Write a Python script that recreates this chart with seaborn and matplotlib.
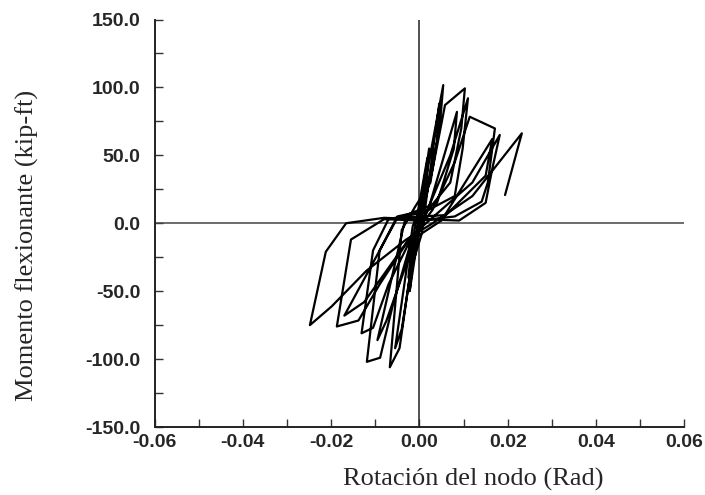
import matplotlib
matplotlib.use("Agg")
from matplotlib import pyplot as plt
from matplotlib.ticker import MultipleLocator, FormatStrFormatter
import seaborn as sns
import pandas as pd

# rotation (rad) and moment (kip-ft) in order
rotation = [
    0.0, 0.0005, 0.0002, -0.0008, -0.0003, 0.0012, 0.0006, -0.0015, -0.0008,
    0.0010, 0.0004, -0.0012, -0.0006,
    0.0022, 0.0015, -0.0025, -0.0018,
    0.0018, 0.0010, -0.0022, -0.0012,
    0.001, 0.0054, 0.0047, 0.0025, -0.001, -0.004, -0.0067, -0.0045, -0.002, 0.0005,
    0.0045, 0.0040, 0.0015, -0.0015, -0.0055, -0.0040, -0.0010,
    0.003, 0.0058, 0.0103, 0.0095, 0.007, 0.002, -0.005, -0.009, -0.0119, -0.0089,
    -0.006, -0.002, 0.002,
    0.0085, 0.0078, 0.004, -0.003, -0.0095, -0.0075, -0.001,
    0.007, 0.011, 0.0098, 0.008, 0.001, -0.007, -0.0105, -0.0131, -0.0105, -0.007,
    -0.002, 0.003,
    0.008, 0.0114, 0.0171, 0.0155, 0.0141, 0.008, 0.0, -0.008, -0.0155, -0.0187,
    -0.0138, -0.009, -0.003, 0.005,
    0.0165, 0.0150, 0.0060, -0.0050, -0.0170, -0.0125, -0.0020,
    0.012, 0.0182, 0.0165, 0.015, 0.009, 0.0, -0.008, -0.0166, -0.0212, -0.0248,
    -0.0199, -0.012, -0.003, 0.003, 0.012,
    0.0232, 0.0194,
]
moment = [
    0, 20, 5, -18, -5, 35, 12, -28, -12,
    30, 8, -25, -8,
    55, 25, -40, -18,
    48, 18, -50, -20,
    25, 101.7, 75, 30, 12, -5, -106, -92, -35, -8,
    88, 60, 20, -2, -92, -78, -15,
    40, 87, 99.3, 70, 30, 10, 5, -20, -102, -99,
    -60, -15, 10,
    82, 55, 15, 6, -86, -72, -12,
    50, 92, 55, 20, 8, 3, -20, -81, -77, -45,
    -12, 10,
    45, 78.4, 69.8, 30, 15.9, 5, 2, 3, -12, -76,
    -71.6, -45, -15, 2,
    62, 35, 6, 4, -68, -58, -10,
    30, 65, 40, 15, 2, 3, 4, 0, -21, -75,
    -61.3, -35, -12, 0, 20,
    66.2, 20.8,
]

x_ticks = [-0.06, -0.04, -0.02, 0.0, 0.02, 0.04, 0.06]
y_ticks = [-150, -100, -50, 0, 50, 100, 150]

df = pd.DataFrame({"rot": rotation, "mom": moment})

sns.set_style("ticks")
plt.rcParams["font.family"] = ["Liberation Sans", "DejaVu Sans"]

fig = plt.figure(figsize=(7.05, 4.95), dpi=100)
ax = fig.add_axes([154.5 / 705, 1 - 427 / 495, (684.3 - 154.5) / 705, (427 - 19.5) / 495])

ax.axhline(0, color="#444444", lw=1.1, zorder=1)
ax.axvline(0, color="#222222", lw=1.1, zorder=1)

sns.lineplot(data=df, x="rot", y="mom", sort=False, estimator=None,
             color="black", lw=1.6, ax=ax, zorder=2)

ax.set_xlim(-0.06, 0.06)
ax.set_ylim(-150, 150)
ax.set_xticks(x_ticks)
ax.set_yticks(y_ticks)
ax.xaxis.set_minor_locator(MultipleLocator(0.01))
ax.yaxis.set_minor_locator(MultipleLocator(25))
ax.xaxis.set_major_formatter(FormatStrFormatter("%.2f"))
ax.yaxis.set_major_formatter(FormatStrFormatter("%.1f"))

for s in ["top", "right"]:
    ax.spines[s].set_visible(False)
for s in ["left", "bottom"]:
    ax.spines[s].set_linewidth(1.4)
    ax.spines[s].set_color("#222222")

ax.tick_params(which="both", direction="in", width=1.0, color="#333333")
ax.tick_params(which="major", length=6)
ax.tick_params(which="minor", length=6)
ax.tick_params(axis="y", which="major", pad=10)
ax.tick_params(axis="x", which="major", pad=5)
for lab in ax.get_xticklabels() + ax.get_yticklabels():
    lab.set_fontweight("bold")
    lab.set_fontsize(14)

ax.set_xlabel("Rotación del nodo (Rad)", family="Liberation Serif", fontsize=19)
ax.set_ylabel("Momento flexionante (kip-ft)", family="Liberation Serif", fontsize=19)
ax.xaxis.set_label_coords(473.5 / 705, 1 - 468 / 495, transform=fig.transFigure)
ax.yaxis.set_label_coords(39 / 705, 1 - 245 / 495, transform=fig.transFigure)

fig.savefig("out.png", dpi=100)
